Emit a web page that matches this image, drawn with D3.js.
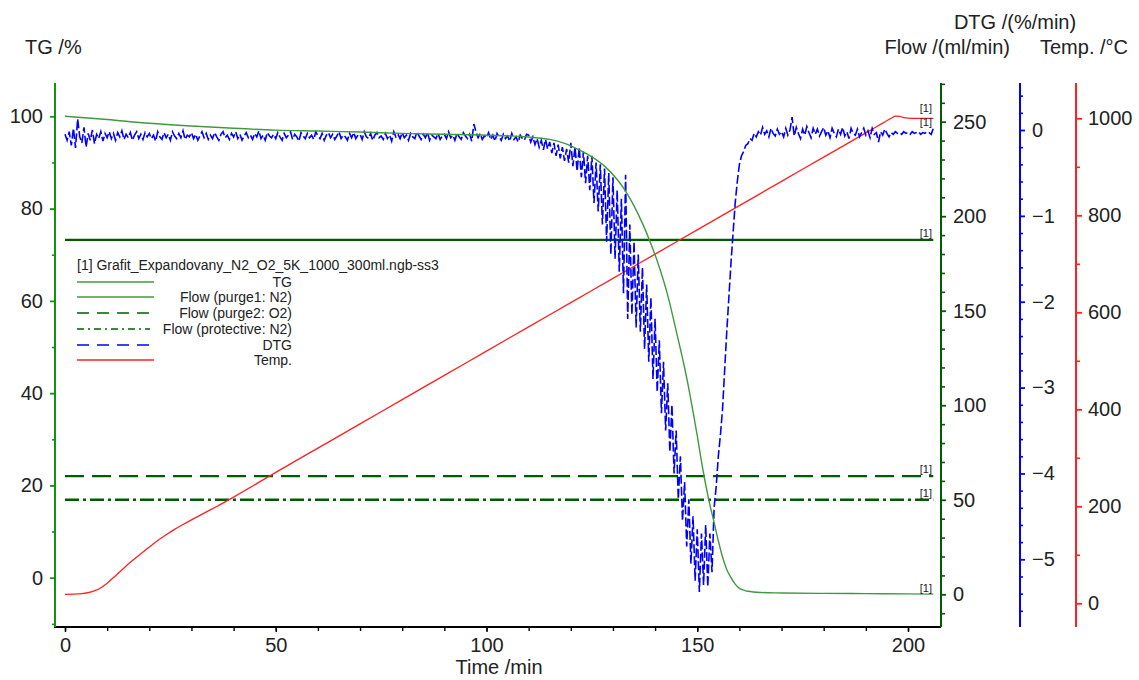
<!DOCTYPE html>
<html><head><meta charset="utf-8">
<script src="https://cdn.jsdelivr.net/npm/d3@7"></script>
<style>
body{margin:0;background:#fff;}
text{font-family:"Liberation Sans",Arial,Helvetica,sans-serif;fill:#222;}
</style></head>
<body>
<svg id="chart" width="1139" height="680"></svg>
<script>
// ---------------- data ----------------
const tgTime  = [0,10,20,30,40,50,60,70,80,90,100,110,115,118,120,122,125,128,131,133,135,137,139,141,143,145,147,148,149,150,151,152,153,154,155,156,157,158,159,160,161,162,165,170,180,190,200,206];
const tgValue = [100,99.3,98.5,97.9,97.4,97.0,96.8,96.6,96.3,96.1,95.9,95.5,95.0,94.3,93.6,92.7,91.2,89.2,86.3,83.8,80.6,76.8,72.4,67.3,61.2,53.5,45.5,41,36,30.8,25.2,20.2,15.8,12,8,4.5,1.8,0,-1.4,-2.3,-2.7,-2.95,-3.2,-3.3,-3.4,-3.45,-3.5,-3.55];

const tempTime  = [0,2,4,6,8,10,12,14,16,18,20,22,24,26,28,30,33,36,40,50,60,70,80,90,100,110,120,130,140,150,160,170,180,190,194,196,197,198,199,200,202,206];
const tempValue = [18.5,18.8,19.8,23,29.5,41.5,57,73,88,102,116,129.5,141.5,152.5,162.5,172,186,199.5,219,270,320,370,420,470,520,570,620,670,720,770,820,870,920,970,990,1000,1004.5,1004,1001.5,1000.5,1000,1000];

const flowNames  = ["Flow (purge1: N2)","Flow (purge2: O2)","Flow (protective: N2)"];
const flowValues = [187.5, 62.5, 50];
const flowTime   = [0, 206];

// DTG sampled every 0.5 min from t = 0
const dtgStep = 0.5;
const dtgValue = [
-0.05,-0.12,-0.02,-0.18,0.02,-0.21,0.13,-0.08,-0.15,0.03,-0.2,-0.04,-0.12,0.0,-0.16,-0.05,-0.1,-0.02,-0.13,-0.04,
-0.09,-0.02,-0.1,-0.04,-0.12,-0.03,-0.08,-0.01,-0.11,-0.05,-0.09,-0.03,-0.12,-0.06,-0.02,-0.1,-0.05,-0.11,-0.03,-0.08,
-0.04,-0.1,-0.06,-0.13,-0.02,-0.08,-0.11,-0.03,-0.09,-0.05,-0.12,-0.02,-0.07,-0.1,-0.04,-0.09,-0.01,-0.11,-0.06,-0.08,
-0.03,-0.1,-0.05,-0.12,-0.07,-0.02,-0.09,-0.04,-0.11,-0.06,-0.1,-0.03,-0.08,-0.12,-0.05,-0.02,-0.09,-0.06,-0.11,-0.04,
-0.08,-0.02,-0.1,-0.05,-0.12,-0.07,-0.03,-0.09,-0.06,-0.11,-0.04,-0.08,-0.01,-0.1,-0.06,-0.12,-0.03,-0.07,-0.09,-0.05,
-0.1,-0.03,-0.08,-0.12,-0.04,-0.09,-0.06,-0.02,-0.11,-0.05,-0.08,-0.13,-0.03,-0.07,-0.1,-0.04,-0.09,-0.06,-0.11,-0.02,
-0.07,-0.1,-0.04,-0.12,-0.06,-0.03,-0.09,-0.05,-0.11,-0.07,-0.02,-0.1,-0.06,-0.08,-0.12,-0.04,-0.09,-0.03,-0.1,-0.06,
-0.05,-0.11,-0.02,-0.08,-0.1,-0.04,-0.12,-0.06,-0.03,-0.09,-0.07,-0.11,-0.04,-0.1,-0.06,-0.13,-0.02,-0.08,-0.05,-0.1,
-0.03,-0.09,-0.06,-0.12,-0.04,-0.08,-0.1,-0.02,-0.07,-0.11,-0.05,-0.09,-0.03,-0.12,-0.06,-0.08,-0.1,-0.04,-0.11,-0.07,
-0.05,-0.1,-0.02,-0.09,-0.06,-0.12,-0.04,-0.08,-0.11,-0.03,-0.07,-0.1,-0.05,-0.13,0.07,-0.02,-0.09,-0.04,-0.11,-0.07,
-0.09,-0.03,-0.11,-0.06,-0.13,-0.04,-0.08,-0.12,-0.05,-0.1,-0.07,-0.13,-0.04,-0.11,-0.08,-0.14,-0.06,-0.1,-0.12,-0.05,
-0.06,-0.14,-0.08,-0.17,-0.1,-0.2,-0.12,-0.23,-0.11,-0.22,-0.14,-0.27,-0.15,-0.3,-0.17,-0.33,-0.2,-0.36,-0.22,-0.38,
-0.15,-0.42,-0.2,-0.48,-0.2,-0.55,-0.25,-0.62,-0.3,-0.7,-0.3,-0.85,-0.38,-0.95,-0.4,-1.1,-0.45,-1.3,-0.5,-1.45,
-0.55,-1.5,-0.7,-1.65,-0.8,-1.9,-0.52,-2.2,-1.1,-2.15,-1.3,-2.3,-1.45,-2.35,-1.6,-2.55,-1.8,-2.7,-1.95,-2.9,
-2.2,-3.05,-2.45,-3.3,-2.7,-3.5,-2.95,-3.75,-3.2,-4.0,-3.5,-4.3,-3.8,-4.55,-4.1,-4.85,-4.3,-5.05,-4.5,-5.25,
-4.65,-5.38,-4.7,-5.3,-4.6,-5.32,-4.7,-5.15,-4.4,-4.15,-3.8,-3.55,-3.25,-2.8,-2.35,-1.95,-1.55,-1.2,-0.85,-0.6,
-0.4,-0.3,-0.25,-0.18,-0.16,-0.1,-0.12,-0.04,-0.08,-0.02,-0.06,0.03,-0.05,-0.01,-0.08,0.02,-0.04,-0.07,0.01,-0.05,
-0.02,-0.08,0.02,-0.06,0.0,0.15,-0.07,0.03,-0.04,-0.1,0.01,-0.06,0.04,-0.03,-0.09,0.02,-0.05,0.01,-0.07,-0.02,
0.03,-0.06,-0.01,-0.09,0.02,-0.04,-0.08,0.01,-0.05,0.03,-0.07,-0.02,-0.1,0.02,-0.04,-0.06,0.01,-0.08,-0.03,0.02,
-0.06,-0.01,-0.09,0.02,-0.05,-0.03,-0.14,-0.02,-0.06,0.01,-0.04,-0.08,-0.03,-0.05,-0.02,-0.04,-0.03,-0.05,-0.02,-0.04,
-0.03,-0.05,-0.02,-0.04,-0.03,-0.02,-0.05,-0.03,-0.04,-0.02,-0.03,-0.05,0.02
];

const xTicks = [0,50,100,150,200];
const tgTicks = [0,20,40,60,80,100];
const flowTicks = [0,50,100,150,200,250];
const dtgTicks = [0,-1,-2,-3,-4,-5];
const tempTicks = [0,200,400,600,800,1000];

const legendTitle = "[1] Grafit_Expandovany_N2_O2_5K_1000_300ml.ngb-ss3";
const legendLabels = ["TG","Flow (purge1: N2)","Flow (purge2: O2)","Flow (protective: N2)","DTG","Temp."];

// ---------------- layout ----------------
const svg = d3.select("#chart");
const plotTop = 83, plotBottom = 627;
const xL = 55, xR = 941, xDTG = 1020, xTemp = 1076;

const x = d3.scaleLinear().domain([0,200]).range([65,908]);
const yTG = d3.scaleLinear().domain([0,100]).range([577.7,116.3]);
const yFlow = d3.scaleLinear().domain([0,250]).range([594.3,121.7]);
const yDTG = d3.scaleLinear().domain([0,-5]).range([130,559.3]);
const yTemp = d3.scaleLinear().domain([0,1000]).range([603.3,118.3]);

const cLeft = "#129412", cFlow = "#005c00", cTG = "#3f9a3f", cBlue = "#0000ff", cRed = "#ff2020";
const FS = 20;

svg.append("defs").append("clipPath").attr("id","clip")
  .append("rect").attr("x",xL+1).attr("y",plotTop).attr("width",xR-xL-2).attr("height",plotBottom-plotTop-1);

function styleAxis(g, color, width){
  g.select(".domain").remove();
  g.selectAll(".tick line").attr("stroke",color).attr("stroke-width",width||1.6);
  g.selectAll(".tick text").style("font-size",FS+"px").attr("fill","#222")
    .style("font-family",'"Liberation Sans",Arial,sans-serif');
}
function vline(xp, color, w){
  svg.append("line").attr("x1",xp).attr("x2",xp).attr("y1",plotTop).attr("y2",plotBottom)
    .attr("stroke",color).attr("stroke-width",w);
}

// bottom axis
const gx = svg.append("g").attr("transform",`translate(0,${plotBottom})`);
gx.call(d3.axisBottom(x).tickValues(d3.range(0,201,10)).tickSize(4).tickFormat(""));
styleAxis(gx,"#000",1.4);
const gx2 = svg.append("g").attr("transform",`translate(0,${plotBottom})`);
gx2.call(d3.axisBottom(x).tickValues(xTicks).tickSize(5).tickPadding(6).tickFormat(d3.format("d")));
styleAxis(gx2,"#000",1.4);
svg.append("line").attr("x1",xL-1).attr("x2",xR).attr("y1",plotBottom).attr("y2",plotBottom).attr("stroke","#000").attr("stroke-width",2);

// left TG axis
const gl = svg.append("g").attr("transform",`translate(${xL},0)`);
gl.call(d3.axisLeft(yTG).tickValues([-10,10,30,50,70,90]).tickSize(3).tickFormat(""));
styleAxis(gl,cLeft,1.6);
const gl2 = svg.append("g").attr("transform",`translate(${xL},0)`);
gl2.call(d3.axisLeft(yTG).tickValues(tgTicks).tickSize(5).tickPadding(7).tickFormat(d3.format("d")));
styleAxis(gl2,cLeft,1.8);
vline(xL,cLeft,2);

// right flow axis
const gf = svg.append("g").attr("transform",`translate(${xR},0)`);
gf.call(d3.axisRight(yFlow).tickValues(d3.range(-10,271,10).filter(v=>v%50!==0)).tickSize(4).tickFormat(""));
styleAxis(gf,cFlow,1.6);
const gf2 = svg.append("g").attr("transform",`translate(${xR},0)`);
gf2.call(d3.axisRight(yFlow).tickValues(flowTicks).tickSize(5).tickPadding(7).tickFormat(d3.format("d")));
styleAxis(gf2,cFlow,1.8);
vline(xR,cFlow,2);

// DTG axis
const gd = svg.append("g").attr("transform",`translate(${xDTG},0)`);
gd.call(d3.axisRight(yDTG).tickValues(d3.range(-28,3,1).map(v=>v/5).filter(v=>Math.abs(v-Math.round(v))>1e-6)).tickSize(3).tickFormat(""));
styleAxis(gd,cBlue,1.6);
const gd2 = svg.append("g").attr("transform",`translate(${xDTG},0)`);
gd2.call(d3.axisRight(yDTG).tickValues(dtgTicks).tickSize(5).tickPadding(7).tickFormat(d3.format("d")));
styleAxis(gd2,cBlue,1.8);
vline(xDTG,cBlue,2);

// Temp axis
const gt = svg.append("g").attr("transform",`translate(${xTemp},0)`);
gt.call(d3.axisRight(yTemp).tickValues([100,300,500,700,900]).tickSize(4).tickFormat(""));
styleAxis(gt,cRed,1.6);
const gt2 = svg.append("g").attr("transform",`translate(${xTemp},0)`);
gt2.call(d3.axisRight(yTemp).tickValues(tempTicks).tickSize(6).tickPadding(6).tickFormat(d3.format("d")));
styleAxis(gt2,cRed,1.8);
vline(xTemp,cRed,2);

// titles
function title(txt, xp, yp, anchor){
  svg.append("text").attr("x",xp).attr("y",yp).attr("text-anchor",anchor||"start")
    .style("font-size",FS+"px").text(txt);
}
title("TG /%", 25, 54);
title("DTG /(%/min)", 1015, 29, "middle");
title("Flow /(ml/min)", 1010, 54, "end");
title("Temp. /°C", 1128, 54, "end");
title("Time /min", 499, 674, "middle");

// ---------------- series ----------------
const plot = svg.append("g").attr("clip-path","url(#clip)");

const flowDash = [null, "19,8", "14,4,3,4"];
flowValues.forEach((v,i)=>{
  const pts = flowTime.map(t=>[t,v]);
  plot.append("path").datum(pts)
    .attr("d", d3.line().x(d=>x(d[0])).y(d=>yFlow(d[1])))
    .attr("fill","none").attr("stroke",cFlow).attr("stroke-width",2.4)
    .attr("stroke-dasharray",flowDash[i]);
});

const tempPts = tempTime.map((t,i)=>[t,tempValue[i]]);
plot.append("path").datum(tempPts)
  .attr("d", d3.line().curve(d3.curveMonotoneX).x(d=>x(d[0])).y(d=>yTemp(d[1])))
  .attr("fill","none").attr("stroke",cRed).attr("stroke-width",1.3);

const dtgPts = dtgValue.map((v,i)=>[i*dtgStep,v]);
plot.append("path").datum(dtgPts)
  .attr("d", d3.line().x(d=>x(d[0])).y(d=>yDTG(d[1])))
  .attr("fill","none").attr("stroke",cBlue).attr("stroke-width",1.6)
  .attr("stroke-dasharray","9,3");

const tgPts = tgTime.map((t,i)=>[t,tgValue[i]]);
plot.append("path").datum(tgPts)
  .attr("d", d3.line().curve(d3.curveMonotoneX).x(d=>x(d[0])).y(d=>yTG(d[1])))
  .attr("fill","none").attr("stroke",cTG).attr("stroke-width",1.4);

function endLabel(yp, color){
  svg.append("text").attr("x",932).attr("y",yp).attr("text-anchor","end")
    .style("font-size","11px").attr("fill",color).text("[1]");
}
flowValues.forEach(v=>endLabel(yFlow(v)-3, "#5f8f5f"));
endLabel(yTG(tgValue[tgValue.length-1])-2, "#5f8f5f");
endLabel(112, "#ff6060");
endLabel(126, "#4040ff");

// ---------------- legend ----------------
const lg = svg.append("g");
lg.append("text").attr("x",77).attr("y",270).style("font-size","14px").text(legendTitle);
const legStyles = [
  {c:cTG, d:null, x2:154},
  {c:cTG, d:null, x2:154},
  {c:cFlow, d:"12,8", x2:150},
  {c:cFlow, d:"7,4,2,4", x2:150},
  {c:cBlue, d:"12,8", x2:150},
  {c:cRed, d:null, x2:154}
];
const legY = [282,297,313,329,345,360];
legendLabels.forEach((lab,i)=>{
  lg.append("line").attr("x1",77).attr("x2",legStyles[i].x2).attr("y1",legY[i]).attr("y2",legY[i])
    .attr("stroke",legStyles[i].c).attr("stroke-width",1.3).attr("stroke-dasharray",legStyles[i].d);
  lg.append("text").attr("x",292).attr("y",legY[i]+5).attr("text-anchor","end")
    .style("font-size","14px").text(lab);
});
</script>
</body></html>
